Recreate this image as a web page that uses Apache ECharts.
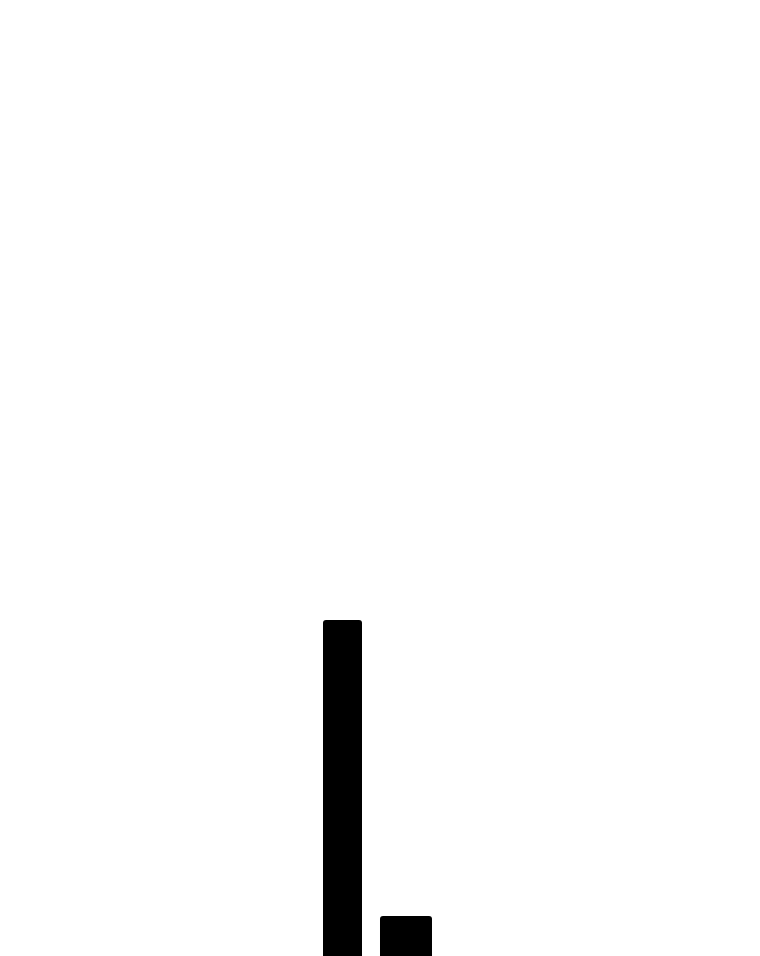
<!DOCTYPE html>
<html>
<head>
<meta charset="utf-8">
<script src="https://cdn.jsdelivr.net/npm/echarts@6/dist/echarts.min.js"></script>
<style>
  html, body { margin: 0; padding: 0; background: #fff; }
  #main { width: 760px; height: 956px; }
</style>
</head>
<body>
<div id="main"></div>
<script>
// data
var categories = ['A'];
var tallValues = [84];
var shortValues = [10];

var myChart = echarts.init(document.getElementById('main'));
myChart.setOption({
    animation: false,
    grid: { left: 0, right: 5, top: 556, bottom: 0 },
    xAxis: {
        type: 'category',
        data: categories,
        show: false
    },
    yAxis: {
        type: 'value',
        min: 0,
        max: 100,
        show: false
    },
    series: [
        {
            type: 'bar',
            data: tallValues,
            barWidth: 39,
            barGap: '46.15%',
            itemStyle: { color: '#000', borderRadius: [3, 3, 0, 0] }
        },
        {
            type: 'bar',
            data: shortValues,
            barWidth: 52,
            itemStyle: { color: '#000', borderRadius: [3, 3, 0, 0] }
        }
    ]
});
</script>
</body>
</html>
